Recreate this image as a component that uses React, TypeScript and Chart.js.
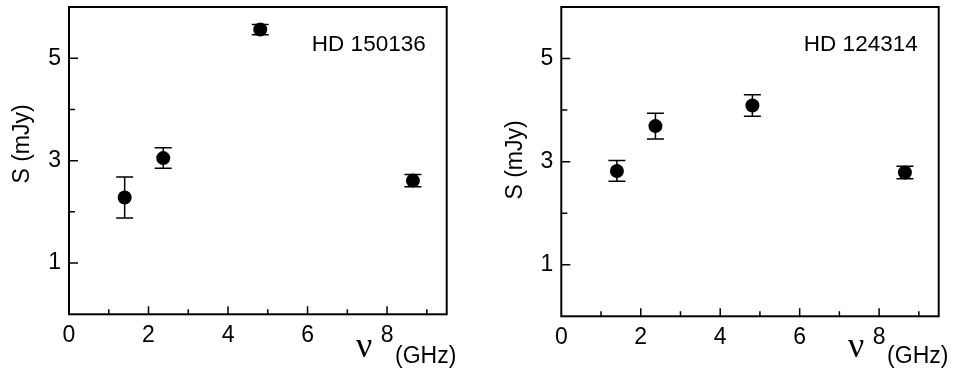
import React, { useEffect, useRef } from "react";
import { Chart, registerables } from "chart.js";

Chart.register(...registerables);

// ---- data ----
const freqGHz = [1.4, 2.37, 4.81, 8.65];
const fluxHD150136 = [2.28, 3.05, 5.56, 2.61];
const errHD150136 = [0.4, 0.2, 0.1, 0.12];
const fluxHD124314 = [2.82, 3.69, 4.09, 2.79];
const errHD124314 = [0.2, 0.25, 0.21, 0.12];
const xTickLabels = [0, 2, 4, 6, 8];
const yTickLabels = [1, 3, 5];
const xMajorTicks = [2, 4, 6, 8];
const xMinorTicks = [1, 3, 5, 7, 9];
const yMajorTicks = [1, 3, 5];
const yMinorTicks = [2, 4];

const SANS = '"Liberation Sans", Arial, Helvetica, sans-serif';
const SERIF = '"Liberation Serif", "Times New Roman", serif';

type PanelProps = {
  name: string;
  flux: number[];
  err: number[];
  area: { left: number; right: number; top: number; bottom: number };
  yTitleY: number;
  offsetX: number;
};

const W = 478;
const H = 368;

function Panel({ name, flux, err, area, yTitleY, offsetX }: PanelProps) {
  const ref = useRef<HTMLCanvasElement | null>(null);
  useEffect(() => {
    if (!ref.current) return;
    const decor = {
      id: "decor",
      beforeDatasetsDraw(chart: any) {
        const ctx = chart.ctx;
        const xs = chart.scales.x;
        const ys = chart.scales.y;
        ctx.save();
        ctx.strokeStyle = "#000";
        ctx.lineWidth = 1.5;
        for (let i = 0; i < freqGHz.length; i++) {
          const px = xs.getPixelForValue(freqGHz[i]);
          const y1 = ys.getPixelForValue(flux[i] + err[i]);
          const y2 = ys.getPixelForValue(flux[i] - err[i]);
          ctx.beginPath();
          ctx.moveTo(px, y1);
          ctx.lineTo(px, y2);
          ctx.moveTo(px - 8.5, y1);
          ctx.lineTo(px + 8.5, y1);
          ctx.moveTo(px - 8.5, y2);
          ctx.lineTo(px + 8.5, y2);
          ctx.stroke();
        }
        ctx.restore();
      },
      afterDraw(chart: any) {
        const ctx = chart.ctx;
        const xs = chart.scales.x;
        const ys = chart.scales.y;
        const { left, right, top, bottom } = chart.chartArea;
        ctx.save();
        ctx.strokeStyle = "#000";
        ctx.lineWidth = 2;
        ctx.strokeRect(left, top, right - left, bottom - top);
        ctx.lineWidth = 1.5;
        ctx.beginPath();
        xMajorTicks.forEach((v) => {
          const p = xs.getPixelForValue(v);
          ctx.moveTo(p, bottom);
          ctx.lineTo(p, bottom - 8);
        });
        xMinorTicks.forEach((v) => {
          const p = xs.getPixelForValue(v);
          ctx.moveTo(p, bottom);
          ctx.lineTo(p, bottom - 5);
        });
        yMajorTicks.forEach((v) => {
          const p = ys.getPixelForValue(v);
          ctx.moveTo(left, p);
          ctx.lineTo(left + 9, p);
        });
        yMinorTicks.forEach((v) => {
          const p = ys.getPixelForValue(v);
          ctx.moveTo(left, p);
          ctx.lineTo(left + 6, p);
        });
        ctx.stroke();

        ctx.fillStyle = "#000";
        ctx.font = `22.5px ${SANS}`;
        ctx.textAlign = "right";
        ctx.textBaseline = "alphabetic";
        ctx.fillText(name, right - 21, top + 44);

        const p8 = xs.getPixelForValue(8);
        ctx.font = `36px ${SERIF}`;
        ctx.textAlign = "center";
        ctx.fillText("ν", p8 - 23, 357);
        ctx.font = `23px ${SANS}`;
        ctx.textAlign = "left";
        ctx.fillText("(GHz)", p8 + 8, 363);

        ctx.translate(left - 46, yTitleY);
        ctx.rotate(-Math.PI / 2);
        ctx.textAlign = "center";
        ctx.textBaseline = "middle";
        ctx.fillText("S (mJy)", 0, 0);
        ctx.restore();
      },
    };
    const chart = new Chart(ref.current, {
      type: "scatter",
      data: {
        datasets: [
          {
            data: freqGHz.map((f, i) => ({ x: f, y: flux[i] })),
            backgroundColor: "#000",
            borderColor: "#000",
            borderWidth: 0,
            pointRadius: 7,
            pointHoverRadius: 7,
            showLine: false,
          },
        ],
      },
      options: {
        animation: false,
        responsive: false,
        events: [],
        layout: {
          padding: { left: 0, top: area.top, right: W - area.right, bottom: 0 },
        },
        plugins: { legend: { display: false }, tooltip: { enabled: false } },
        scales: {
          x: {
            type: "linear",
            min: 0,
            max: 9.5,
            grid: { display: false, drawTicks: false },
            border: { display: false },
            afterFit: (s: any) => {
              s.height = H - area.bottom;
              s.paddingLeft = 0;
              s.paddingRight = 0;
            },
            ticks: {
              stepSize: 1,
              autoSkip: false,
              maxRotation: 0,
              padding: 8,
              color: "#000",
              font: { family: SANS, size: 23 },
              callback: (v: any) => (xTickLabels.includes(Number(v)) ? String(v) : ""),
            },
          },
          y: {
            type: "linear",
            min: 0,
            max: 6,
            grid: { display: false, drawTicks: false },
            border: { display: false },
            afterFit: (s: any) => {
              s.width = area.left;
              s.paddingTop = 0;
              s.paddingBottom = 0;
            },
            ticks: {
              stepSize: 1,
              autoSkip: false,
              padding: 8,
              color: "#000",
              font: { family: SANS, size: 23 },
              callback: (v: any) => (yTickLabels.includes(Number(v)) ? String(v) : ""),
            },
          },
        },
      },
      plugins: [decor],
    });
    return () => chart.destroy();
  }, []);
  return (
    <canvas
      ref={ref}
      width={W}
      height={H}
      style={{ position: "absolute", left: offsetX, top: 0, width: W, height: H }}
    />
  );
}

export default function App() {
  return (
    <div style={{ position: "absolute", left: 0, top: 0, width: 956, height: 368, background: "#fff" }}>
      <Panel
        name="HD 150136"
        flux={fluxHD150136}
        err={errHD150136}
        area={{ left: 69, right: 446.7, top: 4, bottom: 314.3 }}
        yTitleY={144}
        offsetX={0}
      />
      <Panel
        name="HD 124314"
        flux={fluxHD124314}
        err={errHD124314}
        area={{ left: 83.3, right: 460.7, top: 5.7, bottom: 316.3 }}
        yTitleY={160}
        offsetX={478}
      />
    </div>
  );
}
